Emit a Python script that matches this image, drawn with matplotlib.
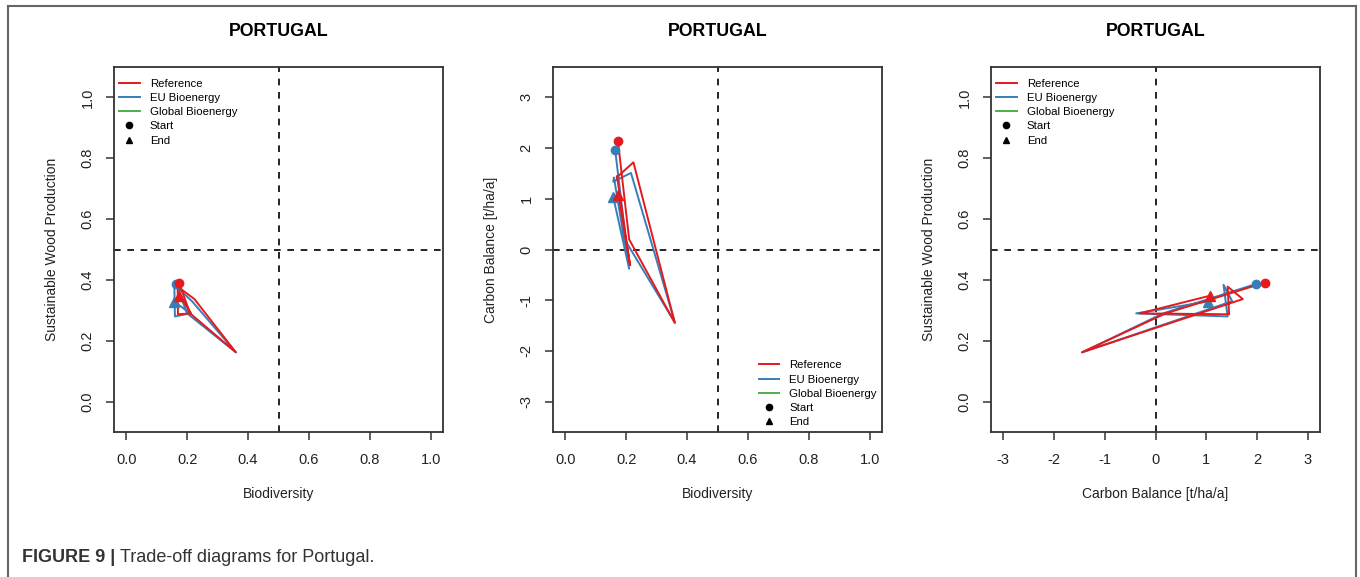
import matplotlib.pyplot as plt
from matplotlib.lines import Line2D

'''
Trajectories per scenario (start -> end), same time steps for every indicator
'''
ref_bio = [0.173, 0.21, 0.36, 0.224, 0.169, 0.17, 0.213, 0.175]
ref_carbon = [2.15, 0.2, -1.45, 1.72, 1.42, 1.45, -0.31, 1.07]
ref_swp = [0.391, 0.29, 0.162, 0.337, 0.378, 0.287, 0.29, 0.348]

eu_bio = [0.164, 0.20, 0.36, 0.216, 0.158, 0.16, 0.21, 0.158]
eu_carbon = [1.97, 0.15, -1.44, 1.51, 1.34, 1.42, -0.38, 1.03]
eu_swp = [0.386, 0.29, 0.162, 0.33, 0.384, 0.28, 0.29, 0.329]

scenario_names = ['Reference', 'EU Bioenergy', 'Global Bioenergy']
scenario_colors = ['#E41A1C', '#377EB8', '#4DAF4A']

plt.rcParams['font.family'] = ['Liberation Sans', 'DejaVu Sans']
plt.rcParams['axes.unicode_minus'] = False

fig = plt.figure(figsize=(13.6, 5.77), dpi=100)
W, H = 1360, 577

def make_ax(left):
    # box in pixels: width 329, top 67, bottom 432
    return fig.add_axes([left / W, (H - 432) / H, 329 / W, 365 / H])

ax1 = make_ax(114)
ax2 = make_ax(553)
ax3 = make_ax(991)

# (x, y) pairs for each panel
panels = [
    (ax1, (eu_bio, eu_swp), (ref_bio, ref_swp)),
    (ax2, (eu_bio, eu_carbon), (ref_bio, ref_carbon)),
    (ax3, (eu_carbon, eu_swp), (ref_carbon, ref_swp)),
]

for ax, eu, ref in panels:
    # blue below, red on top
    for (xs, ys), col in [(eu, scenario_colors[1]), (ref, scenario_colors[0])]:
        ax.plot(xs, ys, color=col, lw=1.4, zorder=3)
        ax.plot(xs[0], ys[0], 'o', color=col, ms=6, zorder=4)
        ax.plot(xs[-1], ys[-1], '^', color=col, ms=6.5, zorder=4)

# dashed reference lines
dash = dict(color='black', lw=1.2, ls=(0, (4, 4)), zorder=2)
ax1.axvline(0.5, **dash)
ax1.axhline(0.5, **dash)
ax2.axvline(0.5, **dash)
ax2.axhline(0, **dash)
ax3.axvline(0, **dash)
ax3.axhline(0.5, **dash)

prop_ticks = [0.0, 0.2, 0.4, 0.6, 0.8, 1.0]
carbon_ticks = [-3, -2, -1, 0, 1, 2, 3]

ax1.set_xlim(-0.04, 1.04)
ax1.set_ylim(-0.1, 1.1)
ax1.set_xticks(prop_ticks)
ax1.set_yticks(prop_ticks)
ax1.set_xticklabels(['%.1f' % t for t in prop_ticks])
ax1.set_yticklabels(['%.1f' % t for t in prop_ticks])

ax2.set_xlim(-0.04, 1.04)
ax2.set_ylim(-3.6, 3.6)
ax2.set_xticks(prop_ticks)
ax2.set_yticks(carbon_ticks)
ax2.set_xticklabels(['%.1f' % t for t in prop_ticks])

ax3.set_xlim(-3.24, 3.24)
ax3.set_ylim(-0.1, 1.1)
ax3.set_xticks(carbon_ticks)
ax3.set_yticks(prop_ticks)
ax3.set_yticklabels(['%.1f' % t for t in prop_ticks])

labels = [
    (ax1, 'Biodiversity', 'Sustainable Wood Production'),
    (ax2, 'Biodiversity', 'Carbon Balance [t/ha/a]'),
    (ax3, 'Carbon Balance [t/ha/a]', 'Sustainable Wood Production'),
]

for ax, xl, yl in labels:
    for s in ax.spines.values():
        s.set_color('#333333')
        s.set_linewidth(1.3)
    ax.tick_params(length=6, width=1.1, color='#333333', labelsize=10.5,
                   labelcolor='#222222')
    ax.tick_params(axis='x', pad=9)
    ax.tick_params(axis='y', pad=8)
    for lab in ax.get_yticklabels():
        lab.set_rotation(90)
        lab.set_va('center')
    ax.set_xlabel(xl, fontsize=10, color='#222222')
    ax.set_ylabel(yl, fontsize=10, color='#222222')
    ax.xaxis.set_label_coords(0.5, -62 / 365)
    ax.yaxis.set_label_coords(-62 / 329, 0.5)
    ax.xaxis.label.set_va('center')
    ax.yaxis.label.set_va('center')
    ax.text(0.5, 1 + 35 / 365, 'PORTUGAL', transform=ax.transAxes,
            ha='center', va='center', fontsize=12.8, fontweight='bold')

# legend
handles = [Line2D([], [], color=c, lw=1.4) for c in scenario_colors]
handles += [Line2D([], [], ls='none', marker='o', color='black', ms=4.5),
            Line2D([], [], ls='none', marker='^', color='black', ms=4.5)]
leg_labels = scenario_names + ['Start', 'End']
leg_kw = dict(frameon=False, fontsize=8.2, handlelength=1.8, handletextpad=0.9,
              labelspacing=0.36, borderaxespad=0.25, borderpad=0.2)

ax1.legend(handles, leg_labels, loc='upper left',
           bbox_to_anchor=(0, 1 - 7 / 365), **leg_kw)
ax3.legend(handles, leg_labels, loc='upper left',
           bbox_to_anchor=(0, 1 - 7 / 365), **leg_kw)
ax2.legend(handles, leg_labels, loc='lower right', **leg_kw)

# outer frame (open at bottom)
frame = dict(color='#666666', lw=1.5, transform=None)
fig.add_artist(Line2D([8, 8], [H - 6, 0], **frame))
fig.add_artist(Line2D([8, 1356], [H - 6, H - 6], **frame))
fig.add_artist(Line2D([1356, 1356], [H - 6, 0], **frame))

# caption
cap1 = fig.text(22 / W, 1 - 557 / H, 'FIGURE 9 | ', fontsize=13,
                fontweight='bold', color='#333333', va='center')
fig.canvas.draw()
bb = cap1.get_window_extent()
fig.text(bb.x1 / W, 1 - 557 / H, 'Trade-off diagrams for Portugal.',
         fontsize=13, color='#333333', va='center')

fig.savefig('out.png', dpi=100)
